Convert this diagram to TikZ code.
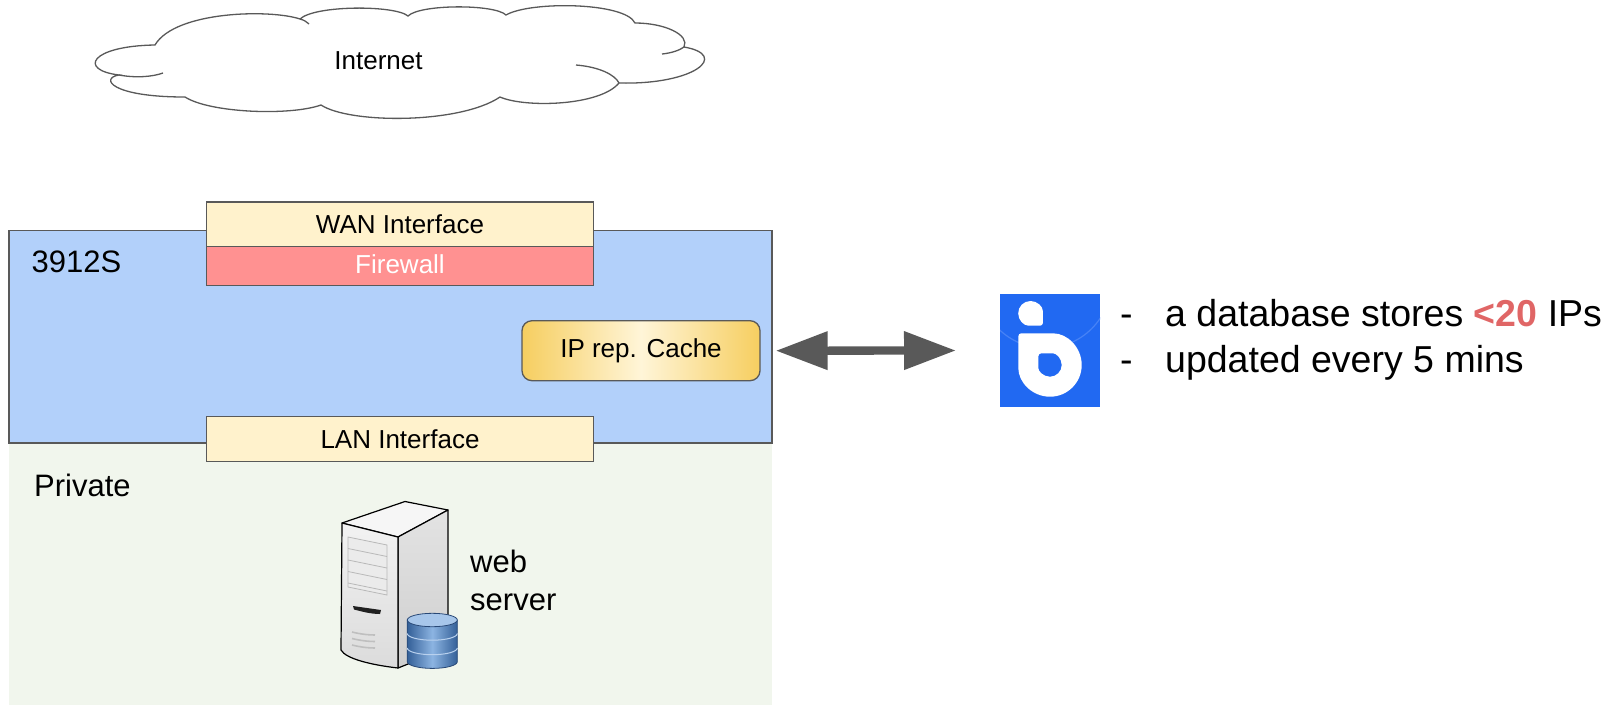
\documentclass[tikz,border=0pt]{standalone}
\usepackage{fontspec}
\setmainfont{Liberation Sans}
\usetikzlibrary{arrows.meta}

\definecolor{edge}{RGB}{89,89,89}
\definecolor{routerblue}{RGB}{178,208,250}
\definecolor{privgreen}{RGB}{241,246,237}
\definecolor{ifacefill}{RGB}{255,242,204}
\definecolor{firewallred}{RGB}{255,145,145}
\definecolor{cachegold}{RGB}{246,206,96}
\definecolor{cachelight}{RGB}{255,245,216}
\definecolor{arrowgray}{RGB}{89,89,89}
\definecolor{logoblue}{RGB}{33,105,242}
\definecolor{logoarc}{RGB}{70,130,246}
\definecolor{hot}{RGB}{224,102,102}
\definecolor{dbdark}{RGB}{52,96,152}
\definecolor{dblight}{RGB}{140,180,226}
\definecolor{dbtop}{RGB}{167,198,234}
\definecolor{dbedge}{RGB}{40,72,118}

\begin{document}
\begin{tikzpicture}[x=1pt,y=-1pt,
  boxfont/.style={font=\fontsize{26}{31}\selectfont},
  iface/.style={draw=edge, line width=1.3pt, fill=ifacefill, boxfont,
    minimum width=386.5pt, minimum height=44.7pt, inner sep=0pt},
  zone/.style={inner sep=0pt, outer sep=0pt},
  label/.style={inner sep=0pt, anchor=base west},
  cloudline/.style={draw=edge, line width=1.3pt},
  towerline/.style={draw=black, line width=1.2pt, line join=round},
]
\useasboundingbox (0,0) rectangle (1619,705);

% ---------- cloud ----------
\path[cloudline, fill=white]
  (155,45) .. controls (90,46) and (78,70) .. (119,75)
  .. controls (100,78) and (110,97) .. (185,97)
  .. controls (210,113) and (290,116) .. (321,105)
  .. controls (350,124) and (460,124) .. (500,97)
  .. controls (525,108) and (600,106) .. (619,83)
  .. controls (695,85) and (730,55) .. (684,47)
  .. controls (690,35) and (665,23) .. (635,23)
  .. controls (625,2) and (530,1) .. (506,15)
  .. controls (495,4) and (420,4) .. (408,16)
  .. controls (395,5) and (315,5) .. (300,19)
  .. controls (270,9) and (175,11) .. (155,45) -- cycle;
\path[cloudline] (119,75) .. controls (135,78) and (152,77) .. (163,73);
\path[cloudline] (576,65) .. controls (600,67) and (615,75) .. (619,83);
\path[cloudline] (662,54) .. controls (672,53) and (680,50) .. (684,47);
\path[cloudline] (300,19) .. controls (304,20) and (307,22) .. (309,24);
\node[boxfont, anchor=base, inner sep=0pt] (internet) at (378.5,69.3) {Internet};

% ---------- zones ----------
\node[zone, fill=privgreen, minimum width=763pt, minimum height=262pt,
  anchor=north west] (private) at (9,443) {};
\node[zone, draw=edge, line width=1.3pt, fill=routerblue, minimum width=763pt,
  minimum height=212.3pt, anchor=north west] (router) at (9,230.7) {};

\node[label, font=\fontsize{31}{37}\selectfont] (routername) at (31.5,272.5) {3912S};
\node[label, font=\fontsize{31}{38}\selectfont] (privname) at (34,496.7) {Private};

% ---------- interfaces ----------
\node[iface] (wan) at (400,224.3) {WAN Interface};
\node[iface, fill=firewallred, minimum height=39pt] (fw) at (400,266.2) {};
\node[boxfont, text=white, inner sep=0pt, anchor=base] (fwtext) at (400,273.5) {Firewall};
\node[iface] (lan) at (400,439) {LAN Interface};

\node[draw=edge, line width=1.3pt, rounded corners=10pt, boxfont,
  left color=cachegold, right color=cachegold, middle color=cachelight,
  minimum width=238pt, minimum height=60pt, inner sep=0pt] (cache) at (641,350.7) {IP rep. Cache};

% ---------- service logo ----------
\node[zone, fill=logoblue, minimum width=100pt, minimum height=113pt] (logo) at (1050,350.5) {};
\begin{scope}
  \clip (logo.south west) rectangle (logo.north east);
  \draw[logoarc, line width=1.2pt] (1045,282) circle[radius=66];
\end{scope}
\fill[white, rounded corners=2.5pt]
  (1042.8,313.3) -- (1042.8,325.6) -- (1030.5,325.6)
  arc[start angle=90, end angle=360, radius=12.3] -- cycle;
\fill[white, even odd rule, rounded corners=3pt]
  (1018.3,365) -- (1018.3,333.3) -- (1050,333.3)
  arc[start angle=270, end angle=540, radius=31.7] -- cycle
  (1038.3,365) -- (1038.3,353.3) -- (1050,353.3)
  arc[start angle=270, end angle=540, radius=11.7] -- cycle;

% ---------- link ----------
\draw[arrowgray, line width=8.3pt,
  {Triangle[length=52pt,width=36.6pt]}-{Triangle[length=52pt,width=36.6pt]}]
  ([xshift=15pt]cache.east) -- ([xshift=-44pt]logo.west);

\node[anchor=base west, inner sep=0pt, font=\fontsize{37.5}{45.5}\selectfont] (notes) at (1120,326.5)
  {\begin{tabular}[t]{@{}l@{\hspace{32.5pt}}l@{}}
   - & a database stores \textbf{\color{hot}<20} IPs\\
   - & updated every 5 mins
   \end{tabular}};

% ---------- web server tower ----------
\path[towerline, fill=gray!7] (342,523) -- (405,501.5) -- (448,510) -- (398,537) -- cycle;
\path[towerline, top color=gray!22, bottom color=gray!38]
  (398,537) -- (448,510) -- (448,648) -- (398,668) -- cycle;
\path[towerline, top color=gray!10, bottom color=gray!28]
  (342,523) -- (398,537) -- (398,668) .. controls (372,665) and (346,659) .. (341,650) -- cycle;
% drive bays
\path[draw=gray!55, line width=0.8pt, fill=gray!16]
  (348,537) -- (387,545) -- (387,595) -- (348,587) -- cycle;
\foreach \yy in {548.5,560,571.5,583}
  \draw[gray!55, line width=0.8pt] (348,\yy) -- (387,{\yy+8});
% power slot and vents
\fill[gray!25!black] (353,606) -- (381,610) -- (380,614)
  .. controls (370,614) and (360,611) .. (354,609.5) -- cycle;
\foreach \yy in {632,638.5,645}
  \draw[gray!50, line width=1.6pt] (352,\yy) .. controls (360,{\yy+2}) and (368,{\yy+3}) .. (375,{\yy+3});

% database cylinder
\path[draw=dbedge, line width=0.8pt, left color=dbdark, right color=dbdark, middle color=dblight]
  (407.3,620) -- (407.3,661.7)
  arc[start angle=180, end angle=0, x radius=25, y radius=6.7] -- (457.3,620) -- cycle;
\draw[dbtop!80!white, line width=1pt] (407.3,633.5) arc[start angle=180, end angle=0, x radius=25, y radius=6.7];
\draw[dbtop!80!white, line width=1pt] (407.3,648) arc[start angle=180, end angle=0, x radius=25, y radius=6.7];
\path[draw=dbedge, line width=0.8pt, fill=dbtop] (432.3,620) ellipse[x radius=25, y radius=6.7];

\node[anchor=north west, inner sep=0pt, align=left, font=\fontsize{31}{38.3}\selectfont]
  (weblabel) at (470,550) {web\\server};
\end{tikzpicture}
\end{document}
